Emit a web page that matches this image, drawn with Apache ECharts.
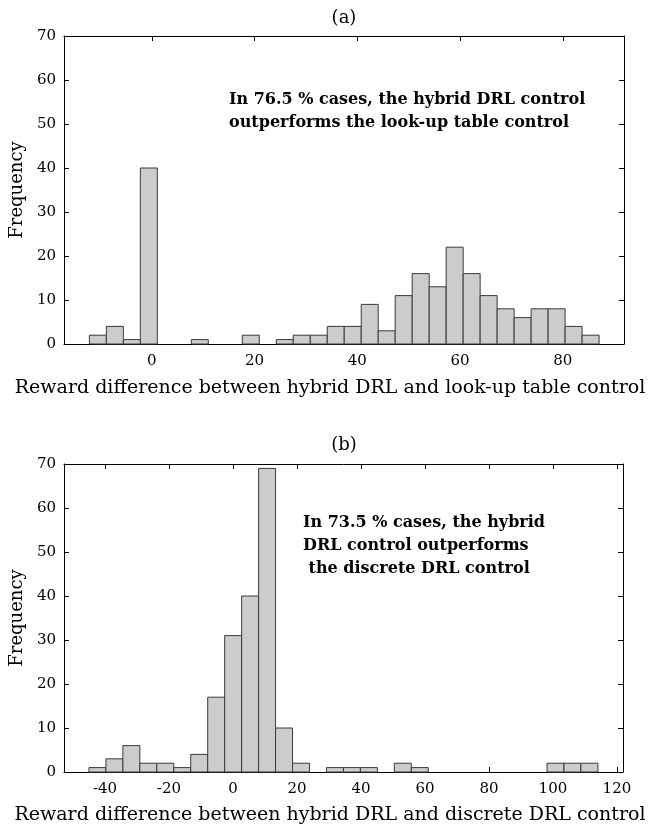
<!DOCTYPE html>
<html>
<head>
<meta charset="utf-8">
<script src="https://cdn.jsdelivr.net/npm/echarts@6/dist/echarts.min.js"></script>
<style>html,body{margin:0;padding:0;background:#fff}#c{width:652px;height:827px}</style>
</head>
<body>
<div id="c"></div>
<script>
// ---- data ----
const countsA = [2,4,1,40,0,0,1,0,0,2,0,1,2,2,4,4,9,3,11,16,13,22,16,11,8,6,8,8,4,2];
const binStartA = -12.16;
const binWidthA = 3.307;
const countsB = [1,3,6,2,2,1,4,17,31,40,69,10,2,0,1,1,1,0,2,1,0,0,0,0,0,0,0,2,2,2];
const binStartB = -45.0;
const binWidthB = 5.302;
const xTicksA = [0,20,40,60,80];
const xTicksB = [-40,-20,0,20,40,60,80,100,120];
const yTicks = [0,10,20,30,40,50,60,70];
const titleA = '(a)';
const titleB = '(b)';
const xLabelA = 'Reward difference between hybrid DRL and look-up table control';
const xLabelB = 'Reward difference between hybrid DRL and discrete DRL control';
const yLabel = 'Frequency';
const noteA = ['In 76.5 % cases, the hybrid DRL control', 'outperforms the look-up table control'];
const noteB = ['In 73.5 % cases, the hybrid', 'DRL control outperforms', ' the discrete DRL control'];

function bins(start, width, counts){
  const out = [];
  counts.forEach((c,i)=>{ if(c>0) out.push([start+i*width, start+(i+1)*width, c]); });
  return out;
}

const FONT = 'DejaVu Serif';
const LBL = {fontFamily: FONT, fontSize: 15, color: '#000'};

function renderBar(params, api){
  const p0 = api.coord([api.value(0), 0]);
  const p1 = api.coord([api.value(1), api.value(2)]);
  return {
    type: 'rect',
    shape: {x: p0[0], y: p1[1], width: p1[0]-p0[0], height: p0[1]-p1[1]},
    style: {fill: '#cccccc', stroke: '#3a3a3a', lineWidth: 1}
  };
}

function xAxes(gi, min, max, ticks){
  return [
    {type:'value', gridIndex:gi, min:min, max:max, position:'bottom',
     axisLine:{show:true, onZero:false, lineStyle:{color:'#000', width:1}},
     axisTick:{show:true, inside:true, length:5, customValues:ticks, lineStyle:{color:'#000'}},
     axisLabel:Object.assign({show:true, customValues:ticks, margin:10}, LBL),
     splitLine:{show:false}},
    {type:'value', gridIndex:gi, min:min, max:max, position:'top',
     axisLine:{show:true, onZero:false, lineStyle:{color:'#000', width:1}},
     axisTick:{show:true, inside:true, length:5, customValues:ticks, lineStyle:{color:'#000'}},
     axisLabel:{show:false}, splitLine:{show:false}}
  ];
}
function yAxes(gi){
  return [
    {type:'value', gridIndex:gi, min:0, max:70, interval:10, position:'left',
     axisLine:{show:true, onZero:false, lineStyle:{color:'#000', width:1}},
     axisTick:{show:true, inside:true, length:5, lineStyle:{color:'#000'}},
     axisLabel:Object.assign({show:true, margin:8}, LBL),
     splitLine:{show:false},
     name:yLabel, nameLocation:'middle', nameGap:37, nameRotate:90,
     nameTextStyle:{fontFamily:FONT, fontSize:18, color:'#000'}},
    {type:'value', gridIndex:gi, min:0, max:70, interval:10, position:'right',
     axisLine:{show:true, onZero:false, lineStyle:{color:'#000', width:1}},
     axisTick:{show:true, inside:true, length:5, lineStyle:{color:'#000'}},
     axisLabel:{show:false}, splitLine:{show:false}}
  ];
}

function noteText(lines, x, y, lh){
  return lines.map((t,i)=>({type:'text', x:x, y:y+i*lh,
    style:{text:t, fontFamily:FONT, fontWeight:'bold', fontSize:16, fill:'#000', verticalAlign:'middle'}}));
}
function centerText(t, x, y, size){
  return {type:'text', x:x, y:y, style:{text:t, fontFamily:FONT, fontSize:size, fill:'#000', align:'center', verticalAlign:'middle'}};
}

const chart = echarts.init(document.getElementById('c'), null, {renderer:'canvas'});
chart.setOption({
  animation:false,
  backgroundColor:'#fff',
  grid:[
    {left:64, top:36, width:560, height:308, containLabel:false, outerBoundsMode:'none'},
    {left:64, top:464, width:559, height:308, containLabel:false, outerBoundsMode:'none'}
  ],
  xAxis:[].concat(xAxes(0,-17.1,91.9,xTicksA), xAxes(1,-52.8,121.9,xTicksB)),
  yAxis:[].concat(yAxes(0), yAxes(1)),
  series:[
    {type:'custom', xAxisIndex:0, yAxisIndex:0, renderItem:renderBar, encode:{x:[0,1], y:2}, data:bins(binStartA,binWidthA,countsA)},
    {type:'custom', xAxisIndex:2, yAxisIndex:2, renderItem:renderBar, encode:{x:[0,1], y:2}, data:bins(binStartB,binWidthB,countsB)}
  ],
  graphic:[
    centerText(titleA, 344, 18, 18),
    centerText(titleB, 344, 445, 18),
    centerText(xLabelA, 330, 388, 19),
    centerText(xLabelB, 330, 815, 19)
  ].concat(noteText(noteA, 229, 100, 23), noteText(noteB, 303, 523, 23))
});
</script>
</body>
</html>
